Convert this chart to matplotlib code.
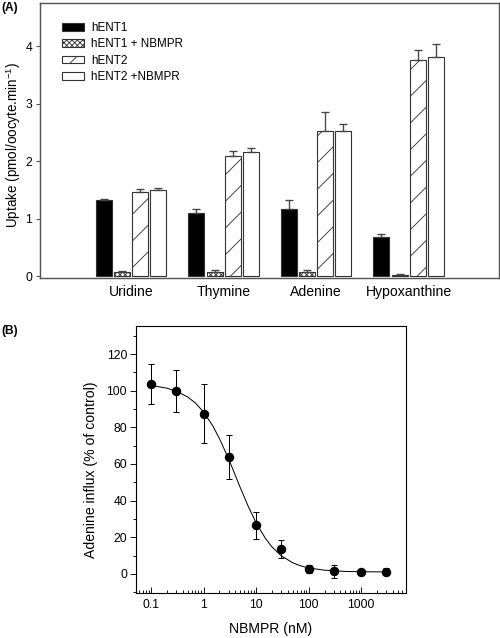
import matplotlib
matplotlib.use("Agg")
import matplotlib.pyplot as plt
import numpy as np

plt.rcParams['font.family'] = ['Liberation Sans', 'DejaVu Sans']
plt.rcParams['mathtext.default'] = 'regular'
plt.rcParams['hatch.linewidth'] = 0.8

# -------------------------------------------------
# DATA
# -------------------------------------------------

# panel A: uptake per substrate
substrates = ["Uridine", "Thymine", "Adenine", "Hypoxanthine"]
series_names = ["hENT1", "hENT1 + NBMPR", "hENT2", "hENT2 +NBMPR"]

hent1 = [1.32, 1.10, 1.17, 0.68]
hent1_err = [0.03, 0.07, 0.15, 0.05]
hent1_nbmpr = [0.08, 0.07, 0.08, 0.03]
hent1_nbmpr_err = [0.02, 0.04, 0.03, 0.02]
hent2 = [1.46, 2.10, 2.53, 3.76]
hent2_err = [0.06, 0.08, 0.33, 0.18]
hent2_nbmpr = [1.50, 2.17, 2.53, 3.81]
hent2_nbmpr_err = [0.04, 0.07, 0.12, 0.22]

# panel B: adenine influx vs NBMPR
nbmpr_nM = [0.1, 0.3, 1, 3, 10, 30, 100, 300, 1000, 3000]
influx = [103.5, 100.0, 87.5, 64.0, 26.5, 13.5, 2.6, 1.5, 1.1, 1.1]
influx_err = [11.0, 11.5, 16.0, 12.0, 7.5, 5.0, 2.0, 3.5, 1.8, 2.0]

# fitted curve
curve_x = [0.1, 0.2, 0.3, 0.5, 0.7, 1, 1.5, 2, 3, 4, 5, 7, 10, 15, 20, 30,
           50, 70, 100, 200, 500, 1000, 3000]
curve_y = [102.9, 101.4, 99.8, 96.6, 93.3, 88.4, 80.8, 74.0, 62.8, 54.0, 47.1,
           37.2, 27.9, 19.4, 14.7, 9.9, 6.0, 4.4, 3.2, 2.0, 1.3, 1.15, 1.05]

# -------------------------------------------------
# FIGURE
# -------------------------------------------------

dpi = 80
fig = plt.figure(figsize=(500 / dpi, 638 / dpi), dpi=dpi)

# ---------------- panel A ----------------
axA = fig.add_axes([0.08, 0.5643, 0.918, 0.431])

x = np.arange(len(substrates))
step = 0.195
width = 0.173
edge = '#333333'
err_kw = dict(ecolor='#444444', elinewidth=1.2, capsize=3.7, capthick=1.2)

values = [hent1, hent1_nbmpr, hent2, hent2_nbmpr]
errors = [hent1_err, hent1_nbmpr_err, hent2_err, hent2_nbmpr_err]
faces = ['black', 'white', 'white', 'white']
hatches = [None, 'xxxxx', '/', None]

for i in range(4):
    pos = x + (i - 1.5) * step
    yerr = [np.zeros(len(values[i])), errors[i]]
    axA.bar(pos, values[i], width, color=faces[i], edgecolor=edge,
            linewidth=1.0, hatch=hatches[i], label=series_names[i],
            yerr=yerr, error_kw=err_kw)

axA.set_xlim(-0.984, 3.978)
axA.set_ylim(-0.026, 4.75)
axA.set_xticks(x)
axA.set_xticklabels(substrates, fontsize=12.6)
axA.tick_params(axis='x', length=0, pad=6)
axA.set_yticks([0, 1, 2, 3, 4])
axA.tick_params(axis='y', direction='out', length=4, width=1, labelsize=11,
                pad=3, color='#555555')
for s in axA.spines.values():
    s.set_linewidth(1.3)
    s.set_color('#555555')
axA.set_ylabel('Uptake (pmol/oocyte.min$^{-1}$)', fontsize=12.2)
axA.yaxis.set_label_coords(-0.038, 0.484)

axA.legend(loc='upper left', bbox_to_anchor=(0.048, 0.93), frameon=False,
           fontsize=10.5, handlelength=1.9, handleheight=0.65,
           handletextpad=0.6, labelspacing=0.36, borderpad=0,
           borderaxespad=0)

fig.text(0.002, 0.988, '(A)', fontsize=10.8, fontweight='bold', va='center')

# ---------------- panel B ----------------
axB = fig.add_axes([0.272, 0.0710, 0.5394, 0.4185])

axB.plot(curve_x, curve_y, color='black', linewidth=0.9)
axB.errorbar(nbmpr_nM, influx, yerr=influx_err, fmt='o', color='black',
             markersize=7.5, ecolor='black', elinewidth=0.9, capsize=2.7,
             capthick=0.9)

axB.set_xscale('log')
axB.set_xlim(0.052, 7000)
axB.set_ylim(-10.3, 135.5)
axB.set_xticks([0.1, 1, 10, 100, 1000])
axB.set_xticklabels(['0.1', '1', '10', '100', '1000'])
axB.set_yticks([0, 20, 40, 60, 80, 100, 120])
axB.set_yticks(np.arange(-10, 135, 10), minor=True)
axB.tick_params(axis='x', which='major', direction='in', length=5, width=0.8,
                labelsize=11, pad=6)
axB.tick_params(axis='x', which='minor', direction='in', length=3, width=0.8)
axB.tick_params(axis='y', which='major', direction='out', length=5, width=0.8,
                labelsize=11, pad=3)
axB.tick_params(axis='y', which='minor', direction='out', length=3, width=0.8)
for s in axB.spines.values():
    s.set_linewidth(1.0)
axB.set_xlabel('NBMPR (nM)', fontsize=12.6, labelpad=10)
axB.set_ylabel('Adenine influx (% of control)', fontsize=12.6)
axB.yaxis.set_label_coords(-0.14, 0.46)

fig.text(0.002, 0.481, '(B)', fontsize=10.8, fontweight='bold', va='center')

fig.savefig('out.png', dpi=dpi)
